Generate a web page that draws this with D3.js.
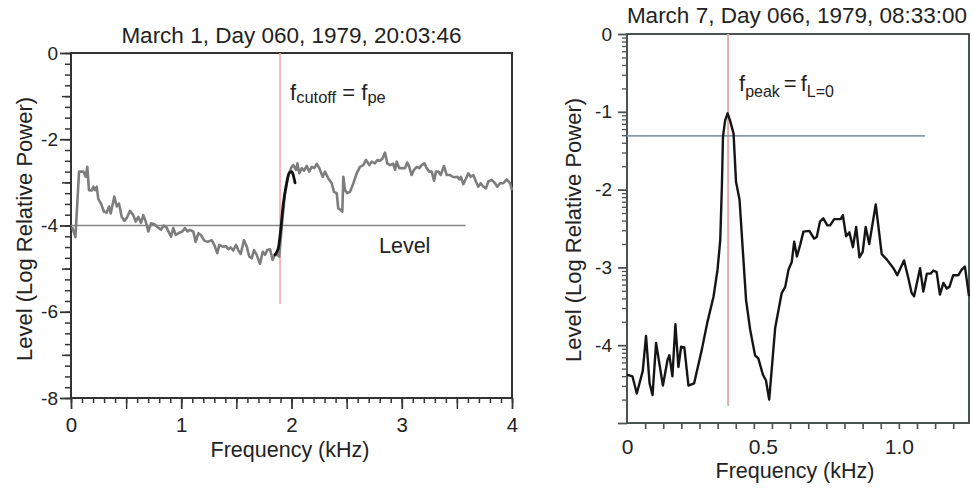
<!DOCTYPE html>
<html><head><meta charset="utf-8">
<script src="https://cdn.jsdelivr.net/npm/d3@7"></script>
<style>
body{margin:0;background:#fff}
svg{display:block}
text{font-family:"Liberation Sans",Arial,Helvetica,sans-serif;fill:#222}
</style>
</head><body>
<svg id="chart" width="972" height="489"></svg>
<script>
// ---------------- DATA ----------------
const leftTitle = "March 1, Day 060, 1979, 20:03:46";
const rightTitle = "March 7, Day 066, 1979, 08:33:00";
const xAxisLabel = "Frequency (kHz)";
const yAxisLabel = "Level (Log Relative Power)";

// Left panel: spectrum [frequency kHz, log level]
const leftSpectrum = [
[0.010,-4.03],[0.040,-4.27],[0.073,-2.75],[0.112,-2.75],[0.133,-2.87],[0.148,-2.64],[0.163,-3.18],[0.188,-3.19],
[0.202,-3.10],[0.218,-3.18],[0.233,-3.10],[0.248,-3.39],[0.272,-3.49],[0.299,-3.68],[0.324,-3.70],[0.345,-3.56],
[0.360,-3.72],[0.393,-3.33],[0.415,-3.56],[0.435,-3.49],[0.460,-3.80],[0.483,-3.89],[0.505,-3.83],[0.535,-3.66],
[0.565,-3.76],[0.587,-3.91],[0.610,-3.80],[0.635,-3.94],[0.656,-3.76],[0.678,-3.91],[0.701,-4.14],[0.726,-3.95],
[0.756,-3.97],[0.786,-4.04],[0.816,-4.10],[0.841,-4.00],[0.868,-4.05],[0.907,-4.26],[0.928,-4.06],[0.950,-4.22],
[0.973,-4.18],[1.010,-4.14],[1.034,-4.06],[1.058,-4.14],[1.079,-4.10],[1.109,-4.14],[1.131,-4.38],[1.155,-4.18],
[1.179,-4.22],[1.209,-4.35],[1.240,-4.38],[1.276,-4.34],[1.300,-4.45],[1.327,-4.64],[1.345,-4.45],[1.376,-4.49],
[1.406,-4.48],[1.427,-4.55],[1.449,-4.51],[1.472,-4.58],[1.497,-4.45],[1.517,-4.57],[1.539,-4.66],[1.569,-4.34],
[1.594,-4.49],[1.617,-4.72],[1.639,-4.76],[1.660,-4.57],[1.684,-4.68],[1.714,-4.89],[1.739,-4.61],[1.760,-4.68],
[1.780,-4.57],[1.805,-4.55],[1.829,-4.80],[1.850,-4.68],[1.871,-4.68],[1.889,-4.72],[1.911,-4.03],[1.941,-3.25],
[1.971,-2.83],[2.002,-2.64],[2.016,-2.60],[2.041,-2.71],[2.053,-2.56],[2.071,-2.79],[2.093,-2.67],[2.113,-2.73],
[2.138,-2.62],[2.161,-2.75],[2.183,-2.64],[2.207,-2.67],[2.229,-2.57],[2.252,-2.67],[2.283,-2.87],[2.304,-2.75],
[2.334,-2.91],[2.365,-3.02],[2.385,-3.22],[2.410,-3.25],[2.424,-3.60],[2.446,-3.64],[2.461,-3.68],[2.470,-2.87],
[2.485,-3.18],[2.506,-3.25],[2.531,-3.22],[2.561,-3.02],[2.591,-2.79],[2.621,-2.64],[2.651,-2.60],[2.676,-2.48],
[2.706,-2.60],[2.727,-2.52],[2.757,-2.56],[2.778,-2.48],[2.803,-2.50],[2.827,-2.44],[2.848,-2.31],[2.869,-2.56],
[2.893,-2.60],[2.923,-2.57],[2.939,-2.71],[2.954,-2.52],[2.978,-2.67],[3.009,-2.67],[3.029,-2.67],[3.050,-2.54],
[3.068,-2.64],[3.090,-2.83],[3.111,-2.71],[3.136,-2.64],[3.159,-2.67],[3.181,-2.60],[3.205,-2.56],[3.226,-2.67],
[3.250,-2.75],[3.272,-2.75],[3.293,-2.96],[3.311,-2.75],[3.332,-2.75],[3.353,-2.83],[3.383,-2.62],[3.408,-2.83],
[3.438,-2.83],[3.462,-2.87],[3.483,-2.88],[3.504,-2.87],[3.522,-2.93],[3.537,-2.87],[3.558,-3.04],[3.583,-2.91],
[3.604,-2.79],[3.625,-2.87],[3.649,-2.83],[3.673,-2.98],[3.694,-3.10],[3.716,-3.02],[3.740,-3.10],[3.764,-3.14],
[3.785,-2.98],[3.816,-2.94],[3.846,-3.02],[3.867,-3.10],[3.891,-3.02],[3.921,-3.02],[3.952,-2.93],[3.982,-3.02],
[4.000,-3.18]
];
// Left panel: fitted cutoff edge (black)
const leftFit = [
[1.850,-4.68],[1.880,-4.53],[1.902,-4.10],[1.926,-3.49],[1.950,-3.10],[1.980,-2.78],[2.002,-2.75],[2.016,-2.83],[2.032,-3.01]
];
const leftCutoffFreq = 1.896, leftCutoffLow = -5.82;
const leftLevelValue = -4.0, leftLevelStart = 0, leftLevelEnd = 3.58;

// Right panel spectrum [frequency kHz, log level]
const rightSpectrum = [
[0.000,-4.38],[0.020,-4.40],[0.036,-4.62],[0.058,-4.33],[0.070,-3.88],[0.083,-4.49],[0.094,-4.64],[0.107,-3.97],
[0.132,-4.52],[0.149,-4.19],[0.156,-4.13],[0.167,-4.40],[0.178,-3.73],[0.189,-4.28],[0.199,-4.02],[0.211,-4.03],
[0.226,-4.52],[0.247,-4.49],[0.275,-4.06],[0.296,-3.70],[0.318,-3.38],[0.333,-3.03],[0.343,-2.65],[0.349,-1.96],
[0.353,-1.32],[0.361,-1.11],[0.370,-1.02],[0.379,-1.11],[0.392,-1.28],[0.401,-1.90],[0.414,-2.13],[0.426,-2.78],
[0.438,-3.42],[0.453,-3.80],[0.471,-4.13],[0.483,-4.17],[0.500,-4.38],[0.511,-4.45],[0.523,-4.70],[0.545,-3.78],
[0.569,-3.33],[0.582,-3.25],[0.594,-3.03],[0.606,-2.93],[0.615,-2.67],[0.625,-2.86],[0.637,-2.71],[0.649,-2.54],
[0.671,-2.53],[0.688,-2.63],[0.698,-2.61],[0.710,-2.41],[0.722,-2.37],[0.737,-2.46],[0.747,-2.46],[0.762,-2.38],
[0.778,-2.38],[0.786,-2.38],[0.794,-2.33],[0.806,-2.60],[0.818,-2.55],[0.831,-2.74],[0.843,-2.48],[0.855,-2.87],
[0.867,-2.80],[0.878,-2.48],[0.891,-2.70],[0.915,-2.19],[0.937,-2.83],[0.956,-2.90],[0.980,-3.01],[0.994,-3.10],
[1.019,-2.91],[1.035,-3.14],[1.047,-3.33],[1.056,-3.37],[1.078,-3.01],[1.090,-3.31],[1.103,-3.08],[1.117,-3.08],
[1.127,-3.04],[1.139,-3.06],[1.151,-3.35],[1.164,-3.20],[1.176,-3.27],[1.186,-3.25],[1.200,-3.10],[1.219,-3.10],
[1.231,-3.03],[1.243,-2.99],[1.258,-3.37]
];
const rightPeakFreq = 0.372, rightPeakLow = -4.78;
const rightLevelValue = -1.31, rightLevelEnd = 1.096;

// Tick values
const leftXLabels = [0,1,2,3,4];
const leftXMid = [0.5,1.5,2.5,3.5];
const leftYLabels = [-8,-6,-4,-2,0];
const leftYMid = [-7,-5,-3,-1];
const rightYLabels = [-5,-4,-3,-2,-1,0];
const rightXLabels = [0,0.5,1.0];
const logMinorK = [2,3,4,5,6,7,8,9];

// ---------------- DRAW ----------------
const svg = d3.select("#chart");

function styleAxis(g, color, width){
  g.select(".domain").remove();
  g.selectAll(".tick line").attr("stroke", color).attr("stroke-width", width);
  g.selectAll("text").attr("fill","#222");
}

// ===== LEFT PANEL =====
const L = {x0:71, x1:512, y0:53, y1:398};
const lx = d3.scaleLinear().domain([0,4]).range([L.x0, L.x1]);
const ly = d3.scaleLinear().domain([-8,0]).range([L.y1, L.y0]);
const axisColL = "#333";

const gL = svg.append("g");
gL.append("g").attr("transform",`translate(${L.x0},0)`)
  .call(d3.axisLeft(ly).tickValues(d3.range(-8,0.001,0.25)).tickSize(6).tickFormat(""))
  .call(g=>styleAxis(g,axisColL,1.5));
gL.append("g").attr("transform",`translate(${L.x0},0)`)
  .call(d3.axisLeft(ly).tickValues(leftYMid).tickSize(9).tickFormat(""))
  .call(g=>styleAxis(g,axisColL,1.5));
gL.append("g").attr("transform",`translate(${L.x0},0)`)
  .call(d3.axisLeft(ly).tickValues(leftYLabels).tickSize(11).tickPadding(2).tickFormat(d=>d<0?"-"+Math.abs(d):String(d)))
  .call(g=>styleAxis(g,axisColL,1.8))
  .selectAll("text").attr("font-size",19).attr("font-family","Liberation Sans, Arial, sans-serif");
gL.append("g").attr("transform",`translate(0,${L.y1})`)
  .call(d3.axisBottom(lx).tickValues(d3.range(0,4.001,0.1)).tickSize(5).tickFormat(""))
  .call(g=>styleAxis(g,axisColL,1.5));
gL.append("g").attr("transform",`translate(0,${L.y1})`)
  .call(d3.axisBottom(lx).tickValues(leftXMid).tickSize(11).tickFormat(""))
  .call(g=>styleAxis(g,axisColL,1.5));
gL.append("g").attr("transform",`translate(0,${L.y1})`)
  .call(d3.axisBottom(lx).tickValues(leftXLabels).tickSize(11).tickPadding(8).tickFormat(d3.format("d")))
  .call(g=>styleAxis(g,axisColL,1.8))
  .selectAll("text").attr("font-size",20.5).attr("font-family","Liberation Sans, Arial, sans-serif");
gL.append("rect").attr("x",L.x0).attr("y",L.y0).attr("width",L.x1-L.x0).attr("height",L.y1-L.y0)
  .attr("fill","none").attr("stroke",axisColL).attr("stroke-width",2);

gL.append("line").attr("x1",lx(leftCutoffFreq)).attr("x2",lx(leftCutoffFreq))
  .attr("y1",ly(0)).attr("y2",ly(leftCutoffLow)).attr("stroke","#f4a3a3").attr("stroke-width",1.5);
gL.append("line").attr("x1",lx(leftLevelStart)).attr("x2",lx(leftLevelEnd))
  .attr("y1",ly(leftLevelValue)).attr("y2",ly(leftLevelValue)).attr("stroke","#858585").attr("stroke-width",1.6);
const lineL = d3.line().x(d=>lx(d[0])).y(d=>ly(d[1]));
gL.append("path").datum(leftSpectrum).attr("d",lineL).attr("fill","none")
  .attr("stroke","#7d7d7d").attr("stroke-width",2.6).attr("stroke-linejoin","round");
gL.append("path").datum(leftFit).attr("d",lineL.curve(d3.curveMonotoneX)).attr("fill","none")
  .attr("stroke","#111").attr("stroke-width",2.8).attr("stroke-linecap","round");

svg.append("text").attr("x",291.5).attr("y",43).attr("text-anchor","middle").attr("font-size",22.5).text(leftTitle);
const annL = svg.append("text").attr("x",290).attr("y",100).attr("font-size",22);
annL.append("tspan").text("f");
annL.append("tspan").attr("dy",3).attr("font-size",16.5).text("cutoff");
annL.append("tspan").attr("dy",-3).text(" = f");
annL.append("tspan").attr("dy",3).attr("font-size",16.5).text("pe");
svg.append("text").attr("x",379).attr("y",253).attr("font-size",21.5).text("Level");
svg.append("text").attr("x",290).attr("y",457).attr("text-anchor","middle").attr("font-size",21.5).text(xAxisLabel);
svg.append("text").attr("transform","translate(32,229) rotate(-90)").attr("text-anchor","middle")
  .attr("font-size",22).text(yAxisLabel);

// ===== RIGHT PANEL =====
const R = {x0:627, x1:969, y0:34, y1:423};
const rx = d3.scaleLinear().domain([0,1.258]).range([R.x0, R.x1]);
const ry = d3.scaleLinear().domain([-5,0]).range([R.y1, R.y0]);
const axisColR = "#4a5252";
const gR = svg.append("g");

const logMinor = [];
rightYLabels.slice(1).forEach(n=>logMinorK.forEach(k=>logMinor.push(n-1+Math.log10(k))));
gR.append("g").attr("transform",`translate(${R.x0},0)`)
  .call(d3.axisLeft(ry).tickValues(logMinor).tickSize(5).tickFormat(""))
  .call(g=>styleAxis(g,axisColR,1.3));
gR.append("g").attr("transform",`translate(${R.x0},0)`)
  .call(d3.axisLeft(ry).tickValues(rightYLabels).tickSize(9).tickPadding(6).tickFormat(d=>d===-5?"":(d<0?"-"+Math.abs(d):String(d))))
  .call(g=>styleAxis(g,axisColR,1.8))
  .selectAll("text").attr("font-size",19).attr("font-family","Liberation Sans, Arial, sans-serif");
gR.append("g").attr("transform",`translate(0,${R.y1})`)
  .call(d3.axisBottom(rx).tickValues(d3.range(1,19).map(k=>k/15)).tickSize(6).tickFormat(""))
  .call(g=>styleAxis(g,axisColR,1.6));
gR.append("g").attr("transform",`translate(0,${R.y1})`)
  .call(d3.axisBottom(rx).tickValues(rightXLabels).tickSize(0).tickPadding(16).tickFormat(d=>d===0?"0":d3.format(".1f")(d)))
  .call(g=>styleAxis(g,axisColR,0))
  .selectAll("text").attr("font-size",21).attr("font-family","Liberation Sans, Arial, sans-serif");
gR.append("rect").attr("x",R.x0).attr("y",R.y0).attr("width",R.x1-R.x0).attr("height",R.y1-R.y0)
  .attr("fill","none").attr("stroke",axisColR).attr("stroke-width",2);

gR.append("line").attr("x1",rx(rightPeakFreq)).attr("x2",rx(rightPeakFreq))
  .attr("y1",ry(0)).attr("y2",ry(rightPeakLow)).attr("stroke","#dcaeb0").attr("stroke-width",2);
gR.append("line").attr("x1",rx(0)).attr("x2",rx(rightLevelEnd))
  .attr("y1",ry(rightLevelValue)).attr("y2",ry(rightLevelValue)).attr("stroke","#8c9aa4").attr("stroke-width",1.6);
const lineR = d3.line().x(d=>rx(d[0])).y(d=>ry(d[1]));
gR.append("path").datum(rightSpectrum).attr("d",lineR).attr("fill","none")
  .attr("stroke","#151515").attr("stroke-width",2.4).attr("stroke-linejoin","round");

svg.append("text").attr("x",797).attr("y",23.3).attr("text-anchor","middle").attr("font-size",22.5).text(rightTitle);
const annR = svg.append("text").attr("x",739).attr("y",90.7).attr("font-size",22);
annR.append("tspan").text("f");
annR.append("tspan").attr("dy",6.6).attr("font-size",16).text("peak");
annR.append("tspan").attr("dy",-6.6).attr("dx",4).text("=");
annR.append("tspan").attr("dx",4).text("f");
annR.append("tspan").attr("dy",6.6).attr("font-size",16).text("L=0");
svg.append("text").attr("x",795).attr("y",478).attr("text-anchor","middle").attr("font-size",21.5).text(xAxisLabel);
svg.append("text").attr("transform","translate(581,230) rotate(-90)").attr("text-anchor","middle")
  .attr("font-size",22).text(yAxisLabel);
</script>
</body></html>
